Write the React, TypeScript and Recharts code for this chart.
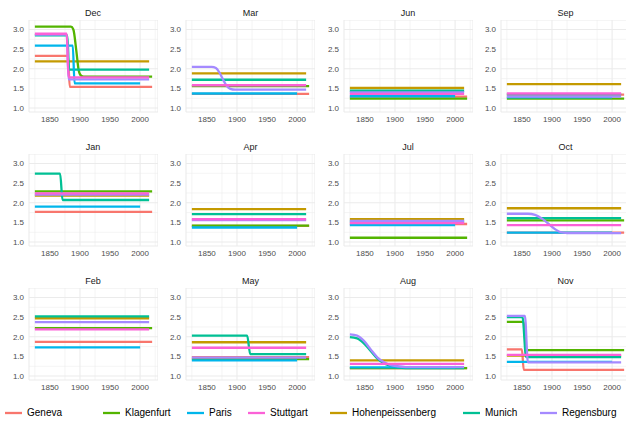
import React from 'react';
import { LineChart, Line, XAxis, YAxis, CartesianGrid, ReferenceLine } from 'recharts';

type Pt = [number, number];
type MonthData = Record<string, Pt[]>;

// draw order (alphabetical, as ggplot groups)
const cities = ['Geneva', 'Hohenpeissenberg', 'Klagenfurt', 'Munich', 'Paris', 'Regensburg', 'Stuttgart'];
const cityColors: Record<string, string> = {
  Geneva: '#F8766D',
  Hohenpeissenberg: '#C49A00',
  Klagenfurt: '#53B400',
  Munich: '#00C094',
  Paris: '#00B6EB',
  Regensburg: '#A58AFF',
  Stuttgart: '#FB61D7',
};
const legendOrder = ['Geneva', 'Klagenfurt', 'Paris', 'Stuttgart', 'Hohenpeissenberg', 'Munich', 'Regensburg'];

const months = ['Dec', 'Mar', 'Jun', 'Sep', 'Jan', 'Apr', 'Jul', 'Oct', 'Feb', 'May', 'Aug', 'Nov'];

const xTicks = [1850, 1900, 1950, 2000];
const xMinor = [1825, 1875, 1925, 1975, 2025];
const yTicks = [1, 1.5, 2, 2.5, 3];
const yMinor = [1.25, 1.75, 2.25, 2.75];

const dec: MonthData = {
  Geneva: [[1825, 2.33], [1880, 2.33], [1883, 1.54], [2020, 1.54]],
  Hohenpeissenberg: [[1825, 2.19], [2015, 2.19]],
  Klagenfurt: [[1825, 3.07], [1885, 3.07], [1889, 3.0], [1894, 2.45], [1898, 1.95], [1902, 1.82], [1906, 1.8], [2020, 1.8]],
  Munich: [[1825, 2.85], [1879, 2.85], [1882, 1.98], [2015, 1.98]],
  Paris: [[1825, 2.59], [1888, 2.59], [1891, 1.63], [2000, 1.63]],
  Regensburg: [[1825, 2.87], [1878, 2.87], [1881, 1.73], [2015, 1.73]],
  Stuttgart: [[1825, 2.89], [1878, 2.89], [1881, 1.78], [2015, 1.78]],
};
const mar: MonthData = {
  Geneva: [[1825, 1.36], [2020, 1.36]],
  Hohenpeissenberg: [[1825, 1.88], [2015, 1.88]],
  Klagenfurt: [[1825, 1.56], [2020, 1.56]],
  Munich: [[1825, 1.72], [2015, 1.72]],
  Paris: [[1825, 1.37], [2000, 1.37]],
  Regensburg: [[1825, 2.05], [1858, 2.05], [1865, 2.02], [1871, 1.9], [1877, 1.72], [1883, 1.56], [1889, 1.49], [1897, 1.47], [2015, 1.47]],
  Stuttgart: [[1825, 1.58], [2015, 1.58]],
};
const jun: MonthData = {
  Geneva: [[1825, 1.29], [2020, 1.29]],
  Hohenpeissenberg: [[1825, 1.51], [2015, 1.51]],
  Klagenfurt: [[1825, 1.24], [2020, 1.24]],
  Munich: [[1825, 1.44], [2015, 1.44]],
  Paris: [[1825, 1.3], [2000, 1.3]],
  Regensburg: [[1825, 1.4], [2015, 1.4]],
  Stuttgart: [[1825, 1.36], [2015, 1.36]],
};
const sep: MonthData = {
  Geneva: [[1825, 1.34], [2020, 1.34]],
  Hohenpeissenberg: [[1825, 1.61], [2015, 1.61]],
  Klagenfurt: [[1825, 1.24], [2020, 1.24]],
  Munich: [[1825, 1.35], [2015, 1.35]],
  Paris: [[1825, 1.27], [2000, 1.27]],
  Regensburg: [[1825, 1.29], [2015, 1.29]],
  Stuttgart: [[1825, 1.37], [2015, 1.37]],
};
const jan: MonthData = {
  Geneva: [[1825, 1.77], [2020, 1.77]],
  Hohenpeissenberg: [[1825, 2.18], [2015, 2.18]],
  Klagenfurt: [[1825, 2.29], [2020, 2.29]],
  Munich: [[1825, 2.74], [1867, 2.74], [1871, 2.07], [2015, 2.07]],
  Paris: [[1825, 1.9], [2000, 1.9]],
  Regensburg: [[1825, 2.21], [2015, 2.21]],
  Stuttgart: [[1825, 2.24], [2015, 2.24]],
};
const apr: MonthData = {
  Geneva: [[1825, 1.41], [2020, 1.41]],
  Hohenpeissenberg: [[1825, 1.84], [2015, 1.84]],
  Klagenfurt: [[1825, 1.42], [2020, 1.42]],
  Munich: [[1825, 1.71], [2015, 1.71]],
  Paris: [[1825, 1.37], [2000, 1.37]],
  Regensburg: [[1825, 1.56], [2015, 1.56]],
  Stuttgart: [[1825, 1.58], [2015, 1.58]],
};
const jul: MonthData = {
  Geneva: [[1825, 1.46], [2020, 1.46]],
  Hohenpeissenberg: [[1825, 1.58], [2015, 1.58]],
  Klagenfurt: [[1825, 1.11], [2020, 1.11]],
  Munich: [[1825, 1.52], [2015, 1.52]],
  Paris: [[1825, 1.43], [2000, 1.43]],
  Regensburg: [[1825, 1.54], [2015, 1.54]],
  Stuttgart: [[1825, 1.48], [2015, 1.48]],
};
const oct: MonthData = {
  Geneva: [[1825, 1.24], [2020, 1.24]],
  Hohenpeissenberg: [[1825, 1.86], [2015, 1.86]],
  Klagenfurt: [[1825, 1.55], [2020, 1.55]],
  Munich: [[1825, 1.61], [2015, 1.61]],
  Paris: [[1825, 1.24], [2000, 1.24]],
  Regensburg: [[1825, 1.72], [1860, 1.72], [1872, 1.69], [1884, 1.59], [1896, 1.44], [1907, 1.31], [1915, 1.25], [1925, 1.23], [2015, 1.23]],
  Stuttgart: [[1825, 1.43], [2015, 1.43]],
};
const feb: MonthData = {
  Geneva: [[1825, 1.87], [2020, 1.87]],
  Hohenpeissenberg: [[1825, 2.47], [2015, 2.47]],
  Klagenfurt: [[1825, 2.22], [2020, 2.22]],
  Munich: [[1825, 2.52], [2015, 2.52]],
  Paris: [[1825, 1.73], [2000, 1.73]],
  Regensburg: [[1825, 2.37], [2015, 2.37]],
  Stuttgart: [[1825, 2.19], [2015, 2.19]],
};
const may: MonthData = {
  Geneva: [[1825, 1.48], [2020, 1.48]],
  Hohenpeissenberg: [[1825, 1.86], [2015, 1.86]],
  Klagenfurt: [[1825, 1.43], [2020, 1.43]],
  Munich: [[1825, 2.03], [1917, 2.03], [1922, 1.56], [2015, 1.56]],
  Paris: [[1825, 1.4], [2000, 1.4]],
  Regensburg: [[1825, 1.47], [2015, 1.47]],
  Stuttgart: [[1825, 1.72], [2015, 1.72]],
};
const aug: MonthData = {
  Geneva: [[1825, 1.2], [2020, 1.2]],
  Hohenpeissenberg: [[1825, 1.4], [2015, 1.4]],
  Klagenfurt: [[1825, 1.2], [2020, 1.2]],
  Munich: [[1825, 1.99], [1837, 1.96], [1848, 1.84], [1860, 1.63], [1871, 1.44], [1882, 1.32], [1893, 1.26], [1904, 1.22], [1918, 1.2], [2015, 1.2]],
  Paris: [[1825, 1.22], [2000, 1.22]],
  Regensburg: [[1825, 2.06], [1837, 2.03], [1848, 1.9], [1860, 1.67], [1871, 1.47], [1882, 1.35], [1893, 1.28], [1904, 1.25], [1918, 1.23], [2015, 1.23]],
  Stuttgart: [[1825, 1.31], [2015, 1.31]],
};
const nov: MonthData = {
  Geneva: [[1825, 1.68], [1850, 1.68], [1853, 1.16], [2020, 1.16]],
  Hohenpeissenberg: [[1825, 1.52], [2015, 1.52]],
  Klagenfurt: [[1825, 2.38], [1853, 2.38], [1857, 1.66], [2020, 1.66]],
  Munich: [[1825, 2.5], [1851, 2.5], [1857, 1.48], [2015, 1.48]],
  Paris: [[1825, 1.36], [2000, 1.36]],
  Regensburg: [[1825, 2.53], [1855, 2.53], [1860, 1.35], [2015, 1.35]],
  Stuttgart: [[1825, 1.54], [2015, 1.54]],
};

const monthSeries = [dec, mar, jun, sep, jan, apr, jul, oct, feb, may, aug, nov];

// layout
const L = {
  colStep: 157.5,
  rowStep: 134.2,
  left0: 28.5,
  top0: 19.6,
  plotW: 129,
  plotH: 92,
  yAxisW: 28,
  xAxisH: 18,
};
const xDomain: [number, number] = [1815.25, 2029.75];
const yDomain: [number, number] = [0.9, 3.24];
const legendKeyX = [5, 103, 187, 248, 330, 463, 540];
const FONT = '"Liberation Sans", Arial, Helvetica, sans-serif';

function Panel({ title, series, row, col }: { title: string; series: MonthData; row: number; col: number }) {
  const plotLeft = L.left0 + L.colStep * col;
  const plotTop = L.top0 + L.rowStep * row;
  return (
    <>
      <div
        style={{
          position: 'absolute',
          left: plotLeft,
          top: plotTop - 13,
          width: L.plotW,
          textAlign: 'center',
          fontSize: 9,
          lineHeight: '12px',
          color: '#1A1A1A',
          fontFamily: FONT,
        }}
      >
        {title}
      </div>
      <div style={{ position: 'absolute', left: plotLeft - L.yAxisW, top: plotTop }}>
        <LineChart
          width={L.yAxisW + L.plotW}
          height={L.plotH + L.xAxisH}
          margin={{ top: 0, right: 0, bottom: 0, left: 0 }}
          style={{ fontFamily: FONT }}
        >
          <CartesianGrid stroke="#EBEBEB" strokeWidth={1.07} />
          {xMinor.map((v) => (
            <ReferenceLine key={'xm' + v} x={v} stroke="#EBEBEB" strokeWidth={0.55} />
          ))}
          {yMinor.map((v) => (
            <ReferenceLine key={'ym' + v} y={v} stroke="#EBEBEB" strokeWidth={0.55} />
          ))}
          <XAxis
            dataKey="year"
            type="number"
            domain={xDomain}
            ticks={xTicks}
            allowDataOverflow
            tickLine={false}
            axisLine={false}
            tickSize={0}
            tickMargin={4}
            height={L.xAxisH}
            tick={{ fontSize: 8, fill: '#4D4D4D' }}
          />
          <YAxis
            type="number"
            domain={yDomain}
            ticks={yTicks}
            allowDataOverflow
            tickLine={false}
            axisLine={false}
            tickSize={0}
            tickMargin={5}
            width={L.yAxisW}
            tickFormatter={(v: number) => v.toFixed(1)}
            tick={{ fontSize: 8, fill: '#4D4D4D' }}
          />
          {cities.map((c) => (
            <Line
              key={c}
              name={c}
              data={series[c].map(([year, v]) => ({ year, v }))}
              dataKey="v"
              type="monotone"
              stroke={cityColors[c]}
              strokeWidth={2.3}
              dot={false}
              activeDot={false}
              isAnimationActive={false}
            />
          ))}
        </LineChart>
      </div>
    </>
  );
}

export default function App() {
  return (
    <div
      style={{
        position: 'absolute',
        left: 0,
        top: 0,
        width: 626,
        height: 421,
        background: '#FFFFFF',
        overflow: 'hidden',
        fontFamily: FONT,
      }}
    >
      {months.map((m, i) => (
        <Panel key={m} title={m} series={monthSeries[i]} row={Math.floor(i / 4)} col={i % 4} />
      ))}
      {legendOrder.map((c, i) => (
        <div
          key={c}
          style={{
            position: 'absolute',
            left: legendKeyX[i],
            top: 406,
            height: 14,
            display: 'flex',
            alignItems: 'center',
            whiteSpace: 'nowrap',
          }}
        >
          <svg width={17} height={14} style={{ display: 'block' }}>
            <line x1={0} x2={17} y1={7} y2={7} stroke={cityColors[c]} strokeWidth={2.3} />
          </svg>
          <span style={{ marginLeft: 5, fontSize: 10, color: '#000000', lineHeight: '14px' }}>{c}</span>
        </div>
      ))}
    </div>
  );
}
